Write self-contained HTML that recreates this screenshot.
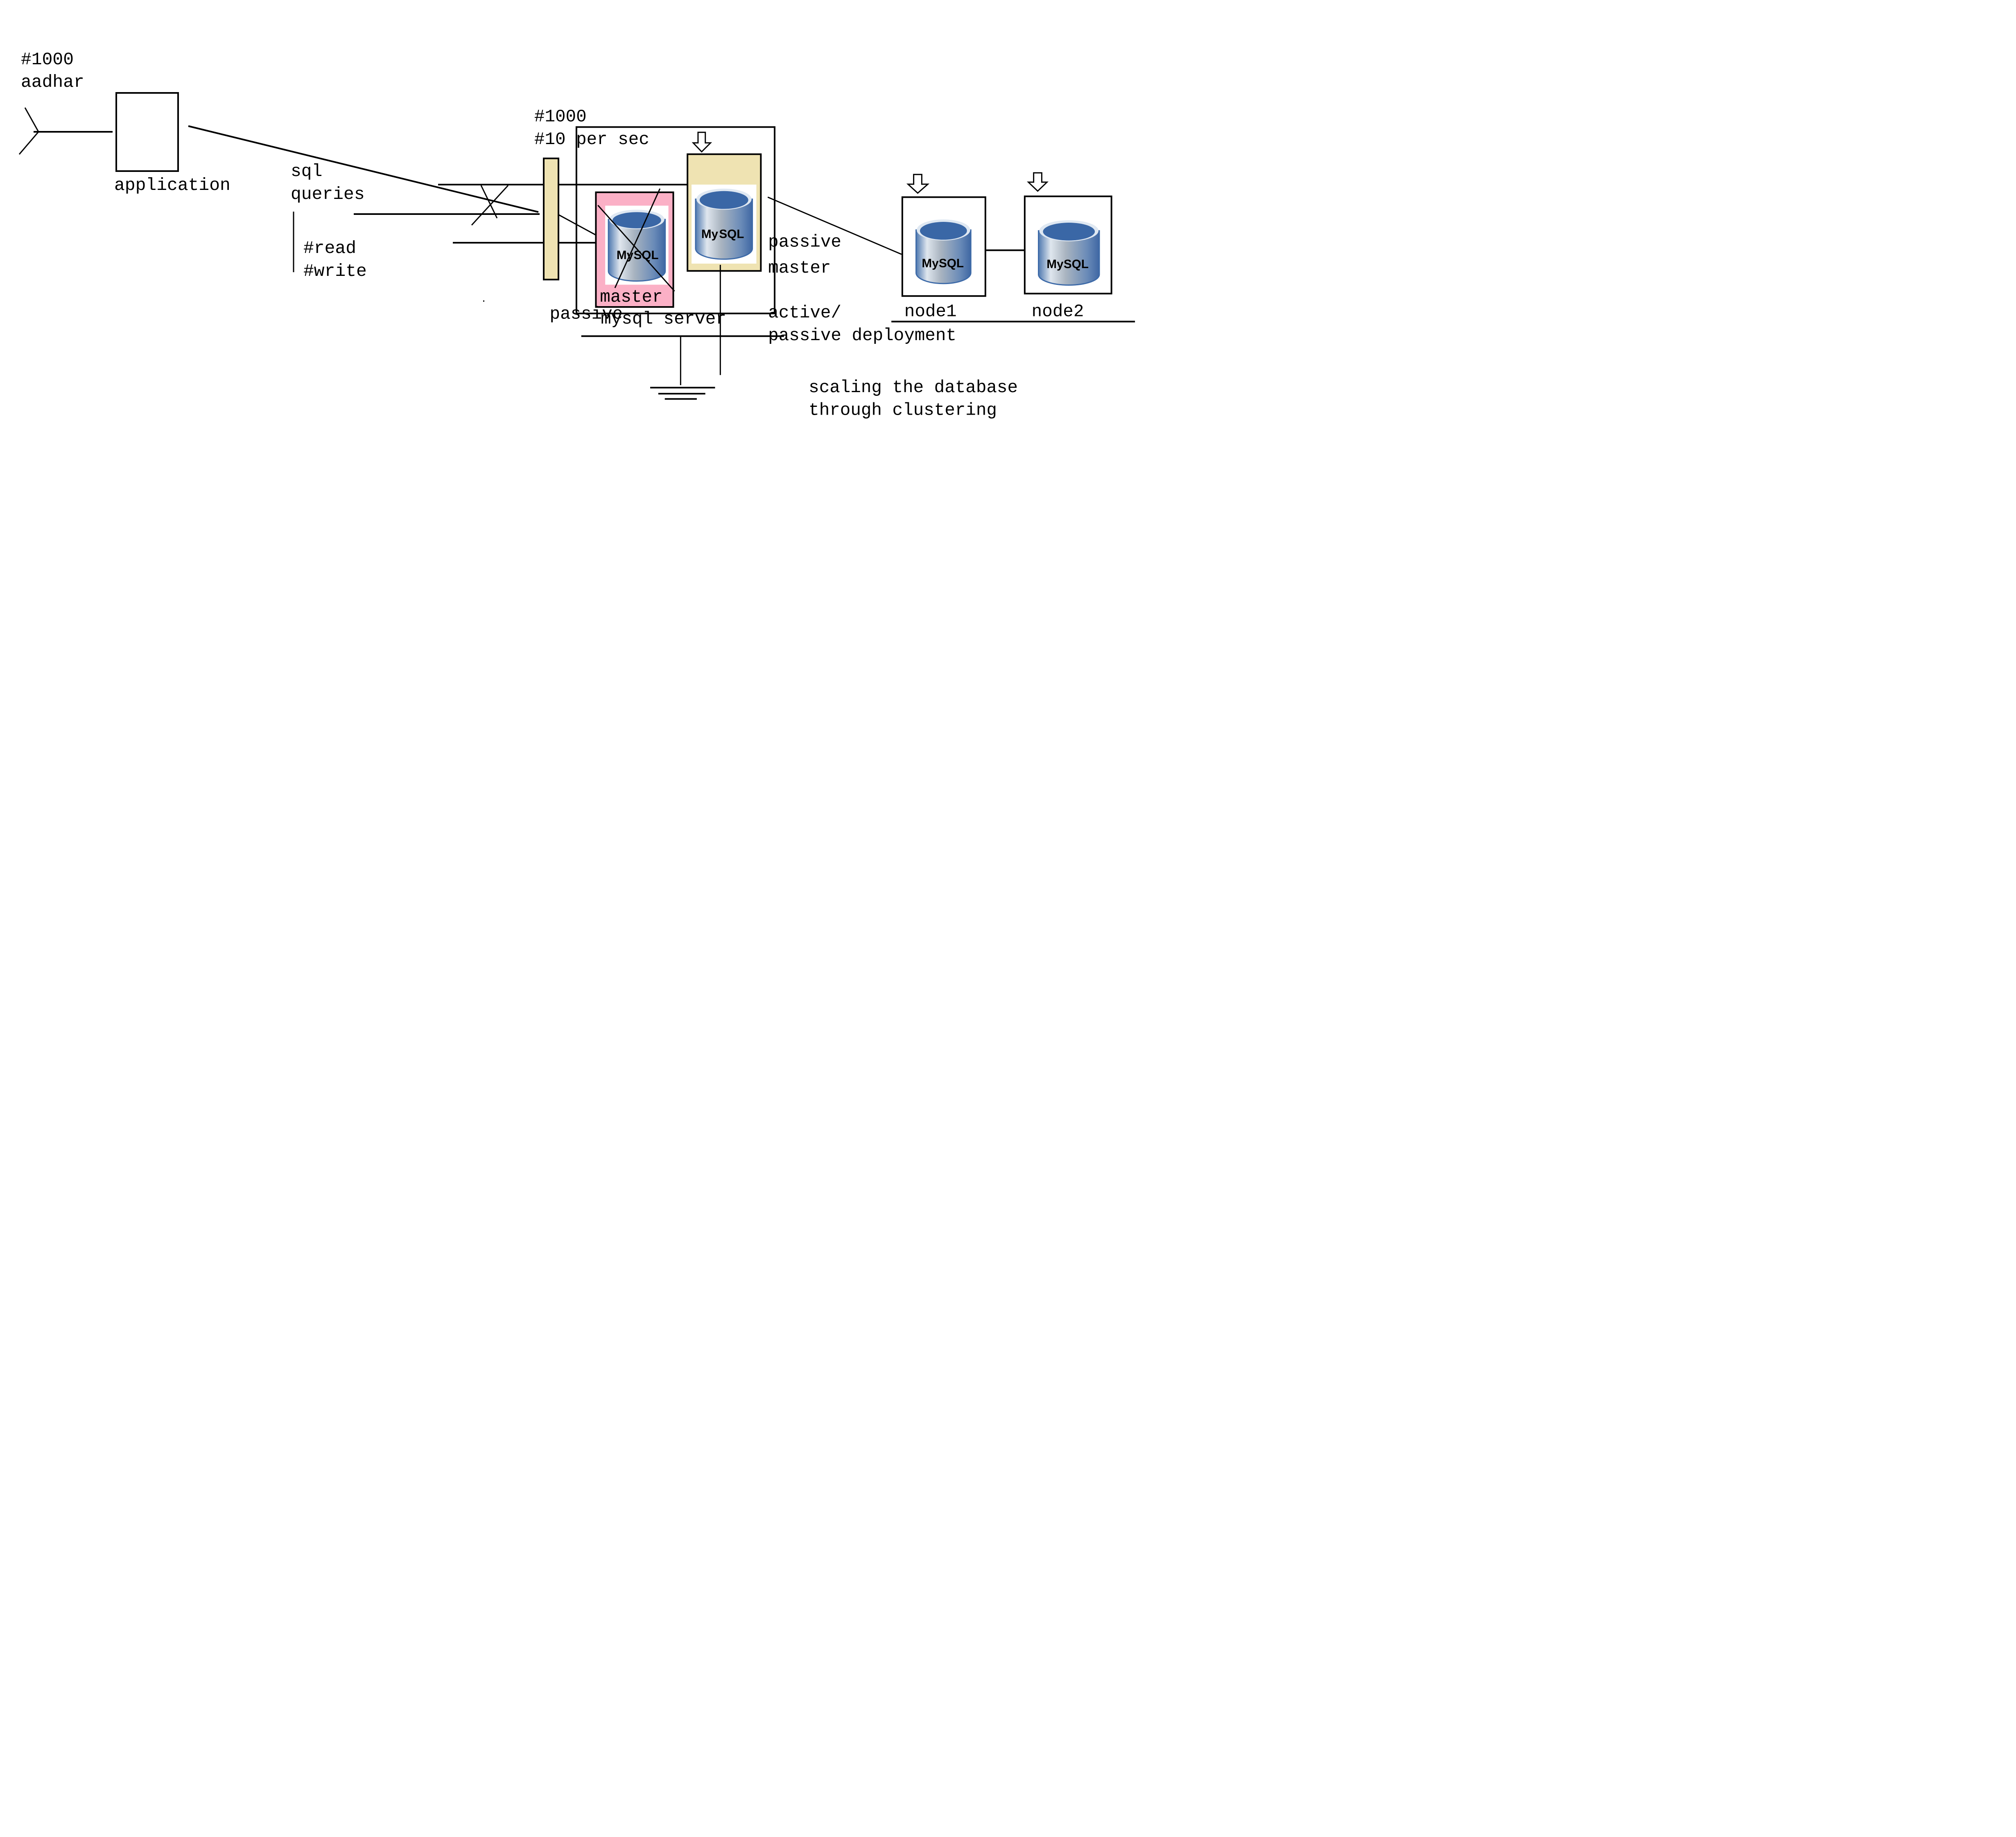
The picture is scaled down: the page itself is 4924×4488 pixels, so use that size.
<!DOCTYPE html>
<html><head><meta charset="utf-8"><style>
html,body{margin:0;padding:0;background:#fff;}
svg{display:block;}
text{font-family:"Liberation Mono",monospace;font-size:43px;fill:#000;}
.m{font-family:"Liberation Sans",sans-serif;font-weight:bold;font-size:30px;}
</style></head><body>
<svg width="4924" height="4488" viewBox="0 0 4924 4488" xmlns="http://www.w3.org/2000/svg">
<defs>
<linearGradient id="cg" x1="0" x2="1" y1="0" y2="0">
<stop offset="0" stop-color="#4f79b0"/><stop offset="0.2" stop-color="#dfe6ee"/><stop offset="0.45" stop-color="#a9b4c0"/><stop offset="0.8" stop-color="#6a8bb8"/><stop offset="1" stop-color="#3f67a3"/>
</linearGradient>
</defs>
<g stroke="#000" fill="none">
<line x1="61" y1="263" x2="94" y2="322" stroke-width="3"/>
<line x1="94" y1="322" x2="47" y2="377" stroke-width="3"/>
<line x1="82" y1="322" x2="275" y2="322" stroke-width="4"/>
<rect x="284" y="227" width="151" height="191" stroke-width="4"/>
<line x1="460" y1="308" x2="1315" y2="518" stroke-width="4"/>
<line x1="717" y1="517" x2="717" y2="665" stroke-width="3"/>
<line x1="1070" y1="451" x2="1680" y2="451" stroke-width="4"/>
<line x1="864" y1="523" x2="1318" y2="523" stroke-width="4"/>
<line x1="1106" y1="593" x2="1490" y2="593" stroke-width="4"/>
<line x1="1175" y1="453" x2="1214" y2="533" stroke-width="3"/>
<line x1="1241" y1="453" x2="1152" y2="550" stroke-width="3"/>
<rect x="1180" y="734" width="3" height="3" fill="#000" stroke="none"/>
</g>
<rect x="1328" y="387" width="36" height="296" fill="#efe3b2" stroke="#000" stroke-width="4"/>
<line x1="1365" y1="525" x2="1490" y2="593" stroke="#000" stroke-width="3"/>
<g transform="translate(1200,250) scale(0.99) translate(-1200,-250)">
<rect x="1410" y="311" width="489" height="460" fill="none" stroke="#000" stroke-width="4"/>
<rect x="1458" y="472" width="191" height="283" fill="#fbb0c6" stroke="#000" stroke-width="4"/>
<rect x="1684" y="378" width="181" height="288" fill="#efe3b2" stroke="#000" stroke-width="4"/>

<g transform="translate(1489,515)">
<rect x="-8" y="-10" width="156" height="195" fill="#fff"/>
<path d="M0,24 L0,152 A70,24 0 0 0 140,152 L140,24 Z" fill="url(#cg)" stroke="#3d6aa8" stroke-width="3"/>
<ellipse cx="70" cy="24" rx="68" ry="24" fill="#dfe8f2"/>
<ellipse cx="70" cy="26" rx="60" ry="20" fill="#3a67a6"/>
<text x="20" y="122" class="m" fill="#2e5d9a">My</text><text x="62" y="122" class="m" fill="#f07f1b">SQL</text>
</g>
<g transform="translate(1704,463)">
<rect x="-10" y="-10" width="160" height="195" fill="#fff"/>
<path d="M0,26 L0,148 A70,26 0 0 0 140,148 L140,26 Z" fill="url(#cg)" stroke="#3d6aa8" stroke-width="3"/>
<ellipse cx="70" cy="26" rx="68" ry="26" fill="#dfe8f2"/>
<ellipse cx="70" cy="28" rx="60" ry="22" fill="#3a67a6"/>
<text x="14" y="122" class="m" fill="#2e5d9a">My</text><text x="58" y="122" class="m" fill="#f07f1b">SQL</text>
</g>
<line x1="1463" y1="504" x2="1652" y2="716" stroke="#000" stroke-width="3"/>
<line x1="1616" y1="463" x2="1505" y2="708" stroke="#000" stroke-width="3"/>
<line x1="1765" y1="651" x2="1765" y2="923" stroke="#000" stroke-width="3"/>
<line x1="1882" y1="484" x2="2212" y2="625" stroke="#000" stroke-width="3"/>

<rect x="2214" y="484" width="205" height="244" fill="#fff" stroke="#000" stroke-width="4"/>
<rect x="2516" y="482" width="214" height="240" fill="#fff" stroke="#000" stroke-width="4"/>
<line x1="2421" y1="615" x2="2516" y2="615" stroke="#000" stroke-width="4"/>
<g transform="translate(2248,539)">
<path d="M0,26 L0,132 A67,26 0 0 0 135,132 L135,26 Z" fill="url(#cg)" stroke="#3d6aa8" stroke-width="3"/>
<ellipse cx="67.5" cy="26" rx="66" ry="26" fill="#dfe8f2"/>
<ellipse cx="67.5" cy="28" rx="58" ry="22" fill="#3a67a6"/>
<text x="14" y="118" class="m" fill="#2e5d9a">My</text><text x="56" y="118" class="m" fill="#f07f1b">SQL</text>
</g>
<g transform="translate(2550,541)">
<path d="M0,26 L0,134 A75,26 0 0 0 150,134 L150,26 Z" fill="url(#cg)" stroke="#3d6aa8" stroke-width="3"/>
<ellipse cx="75" cy="26" rx="73" ry="26" fill="#dfe8f2"/>
<ellipse cx="75" cy="28" rx="64" ry="22" fill="#3a67a6"/>
<text x="20" y="118" class="m" fill="#2e5d9a">My</text><text x="62" y="118" class="m" fill="#f07f1b">SQL</text>
</g>

<g fill="#fff" stroke="#000" stroke-width="3">
<path d="M1710,324 L1728,324 L1728,350 L1741,350 L1719,372 L1698,350 L1710,350 Z"/>
<path d="M2242,428 L2262,428 L2262,452 L2277,452 L2252,474 L2228,452 L2242,452 Z"/>
<path d="M2538,424 L2558,424 L2558,447 L2571,447 L2548,469 L2525,447 L2538,447 Z"/>
</g>

<g stroke="#000" stroke-width="4">
<line x1="1422" y1="827" x2="1922" y2="827"/>
<line x1="1667" y1="827" x2="1667" y2="948" stroke-width="3"/>
<line x1="1592" y1="954" x2="1752" y2="954"/>
<line x1="1612" y1="969" x2="1728" y2="969"/>
<line x1="1628" y1="982" x2="1707" y2="982"/>
<line x1="2187" y1="791" x2="2788" y2="791"/>
</g>

<text x="1306" y="297">#1000</text>
<text x="1306" y="353">#10 per sec</text>
<text x="1468" y="742">master</text>
<text x="1344" y="784">passive</text>
<text x="1470" y="796">mysql server</text>
<text x="1883" y="606">passive</text>
<text x="1883" y="670">master</text>
<text x="1883" y="781">active/</text>
<text x="1883" y="837">passive deployment</text>
<text x="2219" y="778">node1</text>
<text x="2533" y="778">node2</text>
<text x="1983" y="965">scaling the database</text>
<text x="1983" y="1021">through clustering</text>
</g>
<text x="51" y="157">#1000</text>
<text x="51" y="212">aadhar</text>
<text x="279" y="464">application</text>
<text x="710" y="430">sql</text>
<text x="710" y="486">queries</text>
<text x="741" y="618">#read</text>
<text x="741" y="674">#write</text>
</svg>
</body></html>
